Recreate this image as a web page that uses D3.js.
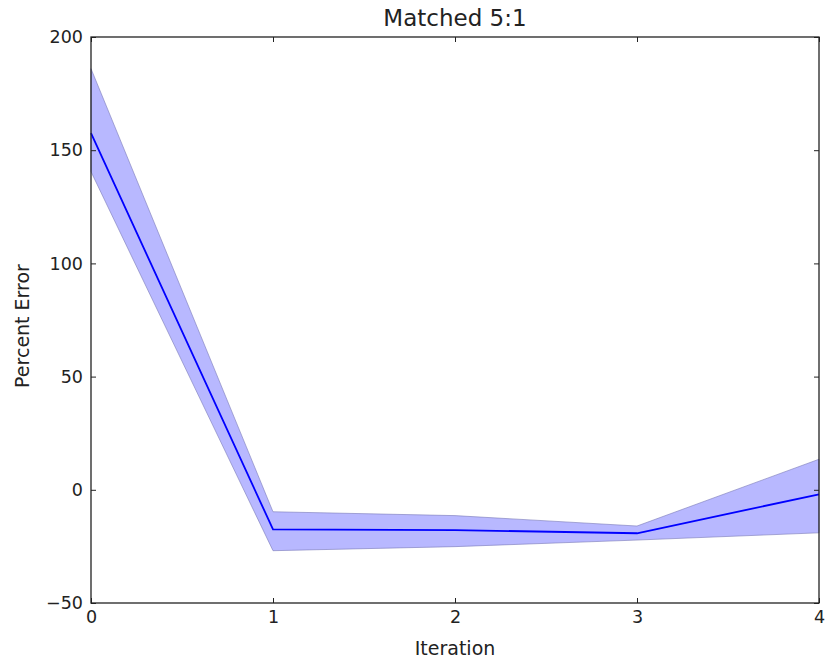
<!DOCTYPE html>
<html>
<head>
<meta charset="utf-8">
<script src="https://cdn.jsdelivr.net/npm/d3@7/dist/d3.min.js"></script>
<style>
  body { margin: 0; background: #fff; }
  svg text { font-family: "DejaVu Sans", sans-serif; fill: #222; }
</style>
</head>
<body>
<svg></svg>
<script>
const iterations = [0, 1, 2, 3, 4];
const meanError = [157.5, -17.5, -17.8, -19.2, -2];
const upperError = [186, -9.7, -11.4, -16, 13.5];
const lowerError = [140.5, -26.9, -25.1, -22.2, -19];
const yTicks = [-50, 0, 50, 100, 150, 200];

const svg = d3.select("svg");
svg.attr("width", 828).attr("height", 668);
const margin = { top: 37, right: 9, bottom: 65, left: 91 };
const width = 828 - margin.left - margin.right;
const height = 668 - margin.top - margin.bottom;

const g = svg.append("g").attr("transform", `translate(${margin.left},${margin.top})`);

const x = d3.scaleLinear().domain([0, 4]).range([0, width]);
const y = d3.scaleLinear().domain([-50, 200]).range([height, 0]);

const rows = iterations.map((it, i) => ({ it, mean: meanError[i], hi: upperError[i], lo: lowerError[i] }));

// shaded band
const area = d3.area().x(d => x(d.it)).y0(d => y(d.lo)).y1(d => y(d.hi));
g.append("path").datum(rows)
  .attr("d", area)
  .attr("fill", "#0000ff")
  .attr("fill-opacity", 0.28)
  .attr("stroke", "#7a7ab8")
  .attr("stroke-opacity", 0.6)
  .attr("stroke-width", 1);

const line = d3.line().x(d => x(d.it)).y(d => y(d.mean));
g.append("path").datum(rows)
  .attr("d", line)
  .attr("fill", "none")
  .attr("stroke", "#0000ff")
  .attr("stroke-width", 1.8);

// axes: inward ticks on all sides (matplotlib classic)
const xAxis = g.append("g").attr("transform", `translate(0,${height})`)
  .call(d3.axisBottom(x).tickValues(iterations).tickSize(-5).tickPadding(8).tickFormat(d3.format("d")));
const xTop = g.append("g")
  .call(d3.axisTop(x).tickValues(iterations).tickSize(-5).tickFormat(""));
const yAxis = g.append("g")
  .call(d3.axisLeft(y).tickValues(yTicks).tickSize(-5).tickPadding(8).tickFormat(d => d < 0 ? "\u2212" + Math.abs(d) : d));
const yRight = g.append("g").attr("transform", `translate(${width},0)`)
  .call(d3.axisRight(y).tickValues(yTicks).tickSize(-5).tickFormat(""));

[xAxis, xTop, yAxis, yRight].forEach(a => {
  a.select(".domain").remove();
  a.selectAll(".tick line").attr("stroke", "#222");
  a.selectAll("text").style("font-size", "17.5px").attr("fill", "#222");
});

g.append("rect")
  .attr("width", width).attr("height", height)
  .attr("fill", "none").attr("stroke", "#222").attr("stroke-width", 1.3);

svg.append("text")
  .attr("x", margin.left + width / 2)
  .attr("y", 26)
  .attr("text-anchor", "middle")
  .style("font-size", "23px")
  .text("Matched 5:1");

svg.append("text")
  .attr("x", margin.left + width / 2)
  .attr("y", 655)
  .attr("text-anchor", "middle")
  .style("font-size", "19px")
  .text("Iteration");

svg.append("text")
  .attr("transform", `translate(29, ${margin.top + height / 2 + 6}) rotate(-90)`)
  .attr("text-anchor", "middle")
  .style("font-size", "19px")
  .text("Percent Error");
</script>
</body>
</html>
